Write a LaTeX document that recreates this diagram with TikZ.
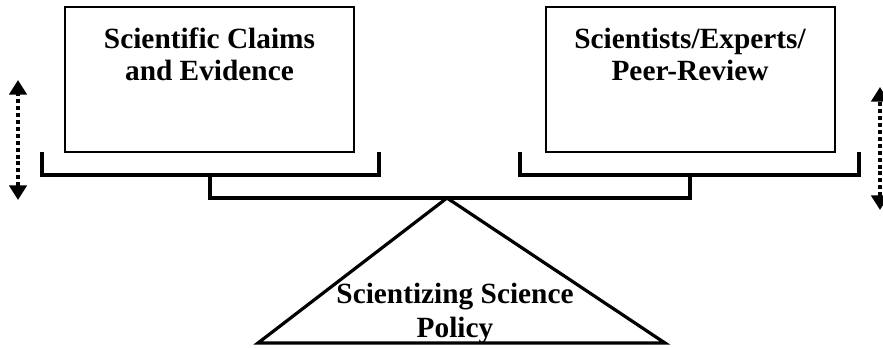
\documentclass[tikz,border=0pt]{standalone}
\usepackage{fontspec}
\setmainfont{Liberation Serif}
\usetikzlibrary{arrows.meta}

\tikzset{
  panel/.style={draw,line width=1.5pt,minimum width=216.75pt,minimum height=108.75pt,inner sep=0pt},
  caption/.style={font=\bfseries\fontsize{22}{24}\selectfont,align=center,inner sep=0pt,anchor=north},
  beam/.style={line width=2.4pt},
  swing/.style={line width=3pt,dash pattern=on 3pt off 2.2pt,
    {Triangle[width=13pt,length=11pt]}-{Triangle[width=13pt,length=11pt]}}
}

\begin{document}
\begin{tikzpicture}[x=0.75pt,y=-0.75pt]
	\useasboundingbox (0,0) rectangle (883,347);
	% the two pans
	\node[panel] (claims) at (209.5,79.5) {};
	\node[panel] (experts) at (690,79.5) {};
	\node[caption] (claimstxt) at (209.5,28) {Scientific Claims\\and Evidence};
	\node[caption] (expertstxt) at (690,28) {Scientists/Experts/\\Peer-Review};
	% hangers and beam
	\coordinate (lstem) at (210,175);
	\coordinate (rstem) at (690,175);
	\coordinate (pivot) at (447,198);
	\draw[beam] (42,152) -- (42,175) -- (379,175) -- (379,152);
	\draw[beam] (520,152) -- (520,175) -- (859,175) -- (859,152);
	\draw[beam] (lstem) -- (lstem |- pivot) -- (rstem |- pivot) -- (rstem);
	% fulcrum
	\draw[beam,line join=miter] (pivot) -- (258,343) -- (665,343) -- cycle;
	\node[caption,font=\bfseries\fontsize{22}{25.5}\selectfont] (policy) at (455,283) {Scientizing Science\\Policy};
	% up and down
	\coordinate (lup) at (18,80);
	\coordinate (ldown) at (18,200);
	\coordinate (rup) at (880,87);
	\coordinate (rdown) at (880,210);
	\draw[swing] (ldown) -- (lup);
	\draw[swing] (rdown) -- (rup);
\end{tikzpicture}
\end{document}
